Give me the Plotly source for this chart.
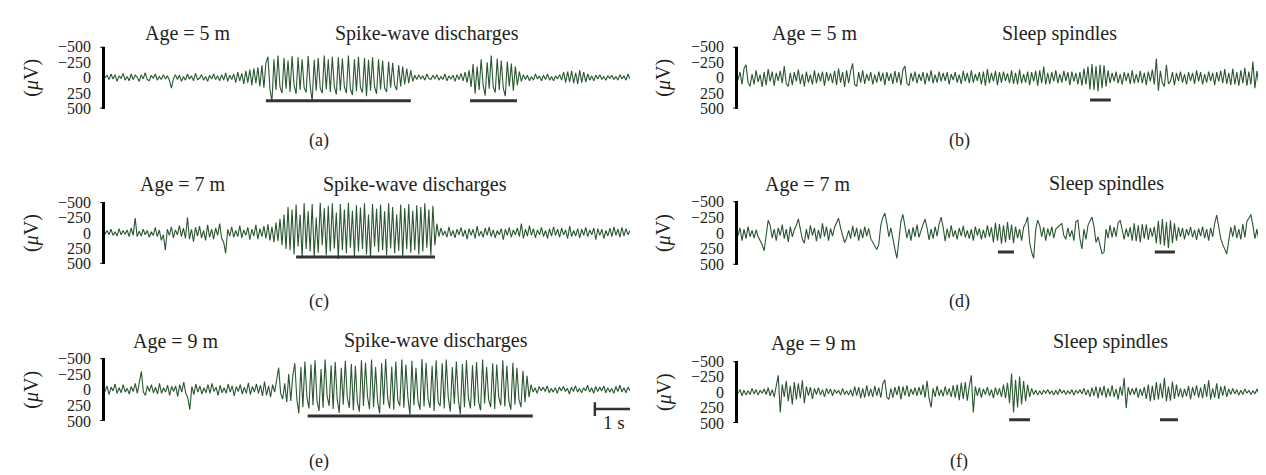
import plotly.graph_objects as go

# ---------------- data (µV, negative = up), one sample every DT seconds ----------------
DT = 0.054

eeg_a = [0, -40, 30, -60, 20, -50, 60, -30, 10, -70, 40, -20, 50, -60, 30, -40, -10, 60, -50, 20,
         -80, 30, 50, -40, 10, -60, 40, -20, 30, -50, 20, -30,
         40, 170, 20,
         -50, 30, -40, 60, -20, 40, -60, 20, -30, 50, -70, 30, 10, -50, 40, -20, 60, -40, 20, -60,
         30, -30, 50, -50, 40, -80, 60, -40, 30, -60, 80, -90, 50, -70, 100, -110, 80, -130, 120, -150,
         90, -170, 140, -200, 160, -240,
         -340, 180, 390, -300, 200, -360, 150, 250, -320, 180, -280, 230, -350, 120, 260,
         -330, 200, -300, 160, 240, -350, 130, 380, -290, 210, -320, 170, 250, -360, 190,
         -300, 230, -340, 140, 270, -330, 210, -310, 150, 250, -360, 180, 280, -300, 220,
         -340, 160, 240, -320, 300, -290, 210, -330, 150, 260, -300, 190, -280, 170, 230,
         -260, 160, -240, 120, 200, -200, 140, -180, 110, -150, 90, -120,
         60, -40, 30, -50, 20, -30, 40, -60, 10, 30, -40, 20, -50, 40, -20, 30, -60, 50, -30, 20,
         -40, 60, -50, 30, -70, 50, -90, 80, -120,
         150, -220, 260, -180, 200, -300, 120, 290, -250, 180, -360, 150, 240, -310, 200, -280,
         170, 300, -260, 140, -230, 210, -180, 120, -100,
         60, -50, 30, -40, 50, -20, 40, -60, 20, -30, 50, -40, 30, -60, 40, -20, 50, -30, 20, -50,
         40, -90, 80, -100, 70, -110, 90, -80, 100, -120, 80, -90, 70, -60, 40, -30, 50, -40, 20, -50,
         30, -20, 40, -30, 10, -40, 30, -20, 40, -50, 20, -30, 40, -60, 20]

eeg_c = [20, -40, 30, -60, 40, -20, 50, -70, 30, -40, 20, -50, 60, -80, 40, -240, 60, -30, 50, -60,
         30, -40, 70, -20, 40, -90, 60, -50, 120, 30, 280, -60, 40, -100, 80, -50, 30, -120, 60, -80,
         90, -250, 100, -60, 140, -90, 50, -110, 80, -40, 120, -130, 70, -60, 100, -80, 40, -150, 90, 150,
         330, -60, 50, -100, 70, -40, 60, -120, 80, -50, 40, -90, 110, -60, 50, -130, 100, -70, 60, -110,
         90, -140, 120, -100, 150, -170, 130,
         -230, 200, -300, 260,
         -420, 280, -380, 350, -460, 220, -300, 400, -480, 260, -350, 300, -470, 380, -250, 320,
         -490, 200, -400, 360, -440, 300, -480, 250, -330, 420, -470, 280, -380, 330, -490, 240,
         -360, 380, -450, 300, -410, 260, -480, 350, -300, 400, -470, 220, -390, 310, -460, 280,
         -350, 360, -480, 250, -420, 330, -300, 290, -460, 380, -400, 260, -470, 320, -360, 280,
         -450, 350, -420, 300, -480, 240, -380, 360, -440, 200, -150,
         60, -80, 40, -30, 70, -100, 50, -40, 80, -60, 30, -90, 60, -50, 100, -70, 40, -60, 90, -110,
         50, -30, 70, -80, 40, -100, 60, -50, 80, -40, 30, -70, 110, -60, 40, -90, 70, -50, 30, -80,
         60, -150, 90, -60, 50, -120, 40, -70, 80, -50, 30, -90, 60, -40, 90, -70, 50, -100, 40, -60,
         70, -80, 30, -50, 90, -110, 60, -40, 50, -70, 80, -60, 40, -90, 60, -50, 30, -80, 110, -70,
         40, -60, 90, -40, 50, -80, 60, -100, 40, -60, 70, -90, 50, -70, 30, -40]

eeg_e = [30, -60, 80, -40, 20, -90, 60, -30, 50, -80, 40, -20, 70, -50, 30, -100, 60, -120, -290, 40,
         90, -60, 30, -80, 50, -40, 70, -100, 60, -30, 40, -70, 90, -50, 30, -60, 110, -80, 40, -120,
         60, 130, 320, -50, 80, -90, 40, -60, 70, -30, 50, -80, 60, -100, 30, -40, 90, -70, 50, -30,
         60, -90, 40, -60, 100, -50, 30, -80, 70, -40, 60, -110, 80, -50, 40, -90, 60, -70, 100, -130,
         90, -60, 120, -80, 40, -150, -350, 60, 150, -100, 200, -250, 180, -220,
         -420, 150, 380, -360, 280, -450, 120, 300, -400, 250, -470, 180, 340, -330, 290, -480,
         100, 260, -390, 310, -440, 160, 370, -350, 240, -460, 130, 290, -410, 330, -380, 200,
         350, -470, 260, -430, 110, 310, -480, 280, -360, 190, 380, -420, 240, -490, 140, 300,
         -370, 320, -450, 170, 260, -480, 290, -400, 120, 400, -460, 250, -350, 180, 320, -490,
         270, -430, 150, 290, -380, 340, -470, 200, 260, -420, 300, -480, 130, 350, -360, 230,
         -450, 170, 390, -410, 280, -470, 140, 300, -390, 260, -440, 190, 330, -480, 220, -360,
         160, 280, -420, 310, -400, 120, 250, -470, 270, -380, 180, 320, -430, 240, -350, 150,
         280, -300, 200, -220, 120, -80,
         40, -30, 60, -50, 20, -40, 30, -60, 50, -20, 40, -30, 60, -40, 20, -50, 30, -20, 70, -40,
         30, -60, 40, -20, 50, -30, 20, -70, 40, -30, 60, -50, 30, -40, 20, -60, 50, -30, 40, -20,
         60, -50, 30, -70, 40, -30, 50, -40, 20]

eeg_b = [40, -90, 110, -150, -210, 80, 140, -60, 110, -120, 70, -50, 150, -90, 120, -140, 60, -100, 130, -80,
         50, -110, 90, -190, 100, 140, -80, 120, -90, 60, -130, 100, -60, 140, -100, 80, -50, 110, -120, 90,
         -80, 60, -100, 130, -90, 50, -70, 90, -110, 120, -150, 80, -90, 150, -120, 90, -110, -230, 110, 140,
         -90, 80, -120, 100, -60, 50, -90, 110, -50, 80, -100, 60, -80, 120, -90, 50, -70, 100, -110, 80,
         -90, 120, -130, -190, 90, 130, -80, 60, -100, 90, -60, 50, -90, 110, -80, 60, -120, 90, -50, 80,
         -100, 60, -80, 50, -90, 110, -60, 40, -90, 80, -50, 100, -110, 60, -80, 90, -120, 80, -60, 50,
         -90, 110, -100, 130, -140, 90, -80, 60, -110, 120, -90, 80, -100, 50, -70, 90, -120, 100, -80, 110,
         -130, 90, -60, 80, -100, 120, -90, 60, -110, 130, -120, 90, -180, 110, -80, 100, -90, 60, -120, 90,
         -60, 80, -110, 50, -90, 120, -100, 60, -80, 110, -90, 130, -150, 110, -180, 190, -220, 200, -190, 220,
         -210, 170, -200, 140, -120, 90, -80, 60, -100, 90, -60, 110, -90, 50, -80, 100, -120, 90, -60, 80,
         -110, 90, -80, 120, -100, 60, -130, 110, -310, 210, -110, 90, 140, -210, 100, 60, -90, 120, -80, 50,
         -100, 80, -60, 110, -90, 50, -80, 100, -120, 60, -90, 110, -60, 80, -100, 50, -80, 120, -90, 60,
         -110, 90, -140, 100, -80, 120, -150, 110, -90, 130, -120, 90, -160, 130, -100, 110, -260, 170, -110, 120,
         -150, -210, 140, -90, 110, -160]

eeg_d = [40, -80, 120, -60, 90, -100, 60, -40, 80, -50, 60, 120, 180, 280, 40, -200, -120, 80, -60, 120,
         -80, 40, -130, 90, -60, 140, -100, 60, -50, -120, -220, -80, 100, 160, -60, 100, -120, 40, -80, 130,
         -50, 90, -150, 60, -100, 120, -70, 50, -90, -160, -230, -80, 60, 150, 80, -40, 90, -110, 60, -80,
         120, -60, 80, -100, 50, -70, 90, 140, 200, 260, 180, -120, -240, -310, -150, 60, -80, 120, 250, 400,
         150, -180, -290, -100, 80, -60, 120, -90, 60, -130, 70, -40, -150, -220, -80, 110, -60, 90, -100, 50,
         -140, -250, -90, 130, -70, 80, -120, 60, -40, 100, -80, 50, -110, 70, -40, 90, -60, 120, -100, 40,
         -70, 100, -50, 80, -120, 60, -90, 150, -160, 120, -140, 170, -120, 150, -170, 110, -130, 160, -100, 80,
         -60, 120, -90, -150, -250, 150, 300, 400, -50, -200, -120, 60, -90, 120, -70, 50, -100, 80, -60, -90,
         -130, -150, 40, 100, -80, 60, -40, 120, -180, -200, 90, 250, -60, 100, -120, -180, -250, -100, 150, 60,
         200, 330, 300, -60, 80, -120, 70, -90, 60, -160, -200, -40, 100, -70, 60, -90, 120, -150, 130, -120,
         150, -140, 90, -130, 110, -80, 60, -100, 160, -190, 180, -220, 200, -170, 240, -200, 160, -150, 120, -90,
         60, -80, 100, -60, 40, -90, 70, -50, 110, -70, 50, -100, 80, -60, 120, -80, 60, -150, -280, -100,
         90, 180, 250, 330, 120, -90, 60, -120, 80, -60, 100, -140, 70, -180, -230, -290, -120, 90, -60, 130,
         -100, -270, -150, 80, 140, -120]

eeg_f = [20, -40, 60, -30, 50, -20, 40, -60, 30, -40, 50, -30, 20, -50, 40, -70, 60, -40, 80, -100,
         -270, 330, -120, 80, -180, 150, -100, 200, -160, 120, -140, 100, -190, 180, -90, 60, -80, 110, -60, 40,
         -70, 50, -40, 80, -60, 30, -50, 60, -40, 20, -30, 50, -60, 40, -20, 50, -40, 70, -90, 60,
         -80, 100, -60, 90, -110, 70, -50, 80, -100, 60, -70, 90, -130, -200, 80, 120, -60, 90, -80, 50,
         -100, 120, -90, 60, -110, 80, -50, 40, -70, 60, -80, 50, -120, 90, -180, 100, 250, -60, 80, -100,
         60, -40, 70, -90, 50, -60, 80, -110, 90, -120, 130, -150, 110, -160, 140, -100, -270, 330, -90, 60,
         -70, 90, -50, 40, -80, 60, -40, 100, -70, 50, -60, 80, -120, 100, -150, 180, -300, 330, -200, 250,
         -250, 200, -180, 150, -120, 80, -60, 40, -30, 50, -20, 40, -30, 20, -40, 30, -20, 50, -30, 40,
         -50, 20, -30, 40, -20, 30, -40, 50, -30, 20, -40, 30, -60, 50, -40, 80, -70, 60, -90, 100,
         -80, 60, -100, 90, -60, 70, -110, 80, -50, 120, -90, 60, -230, 260, -80, 50, -60, 40, -70, 90,
         -50, 60, -80, 110, -120, 150, -100, 130, -160, 120, -140, 100, -230, 150, -90, 140, -170, 110, -120, 80,
         -60, 90, -50, 70, -100, 120, -80, 60, -110, 90, -70, 100, -130, 80, -190, 120, -60, 90, -140, 110,
         -90, 60, -100, 80, -50, 40, -60, 30, -40, 50, -30, 40, -50, 20, -30, 40, -20, 30, -50, 40,
         -30, 20, -40, 30, -20, 10]

# marked intervals (s)
swd_a = [(4.32, 8.21), (9.80, 11.06)]
swd_c = [(5.13, 8.86)]
swd_e = [(5.42, 11.44)]
spindle_b = [(9.45, 10.01)]
spindle_d = [(6.98, 7.41), (11.19, 11.73)]
spindle_f = [(7.28, 7.84), (11.33, 11.81)]
scale_bar_s = (13.1, 14.1)

tick_vals = [-500, -250, 0, 250, 500]
tick_text = ["\u2212500", "\u2212250", "0", "250", "500"]

# ---------------- layout / style ----------------
W, H = 1266, 475
FONT = "Liberation Serif, Times New Roman, serif"
TXT = "#231f20"
LINE = "#2a5631"


def fx(px):
    return px / W


def fy(py):
    return 1 - py / H


col_px = [(97, 622), (730, 1263)]
panels = [
    dict(sig=eeg_a, col=0, ypx=(32, 96), marks=swd_a, bar=375, age="Age = 5 m", kind="Spike-wave discharges",
         age_xy=(180, 18), kind_xy=(419, 18), lab="(a)", lab_y=129),
    dict(sig=eeg_b, col=1, ypx=(32, 96), marks=spindle_b, bar=360, age="Age = 5 m", kind="Sleep spindles",
         age_xy=(807, 18), kind_xy=(1051, 18), lab="(b)", lab_y=129),
    dict(sig=eeg_c, col=0, ypx=(193, 257), marks=swd_c, bar=390, age="Age = 7 m", kind="Spike-wave discharges",
         age_xy=(175, 175), kind_xy=(407, 175), lab="(c)", lab_y=296),
    dict(sig=eeg_d, col=1, ypx=(192, 258), marks=spindle_d, bar=300, age="Age = 7 m", kind="Sleep spindles",
         age_xy=(800, 175), kind_xy=(1098, 174), lab="(d)", lab_y=296),
    dict(sig=eeg_e, col=0, ypx=(355, 420), marks=swd_e, bar=420, age="Age = 9 m", kind="Spike-wave discharges",
         age_xy=(168, 338), kind_xy=(428, 337), lab="(e)", lab_y=462),
    dict(sig=eeg_f, col=1, ypx=(358, 422), marks=spindle_f, bar=450, age="Age = 9 m", kind="Sleep spindles",
         age_xy=(806, 340), kind_xy=(1102, 338), lab="(f)", lab_y=462),
]
label_x = [311, 951]
unit_x = [24, 656]

fig = go.Figure()
shapes = []
annotations = []
layout_axes = {}

for k, p in enumerate(panels, start=1):
    n = len(p["sig"])
    t = [i * DT for i in range(n)]
    xa = "x" if k == 1 else f"x{k}"
    ya = "y" if k == 1 else f"y{k}"
    fig.add_trace(go.Scatter(x=t, y=p["sig"], mode="lines", line=dict(color=LINE, width=1.1),
                             xaxis=xa, yaxis=ya, hoverinfo="skip", showlegend=False))
    x0, x1 = col_px[p["col"]]
    ytop, ybot = p["ypx"]
    layout_axes["xaxis" if k == 1 else f"xaxis{k}"] = dict(
        domain=[fx(x0), fx(x1)], range=[0, (n - 1) * DT], anchor=ya, visible=False, fixedrange=True)
    layout_axes["yaxis" if k == 1 else f"yaxis{k}"] = dict(
        domain=[fy(ybot), fy(ytop)], range=[500, -500], anchor=xa, showline=True, linewidth=2.5,
        linecolor="black", showgrid=False, zeroline=False, ticks="", tickvals=tick_vals, ticktext=tick_text,
        tickfont=dict(family=FONT, size=16, color=TXT), ticklabelstandoff=8, fixedrange=True)
    for yv in (-500, 500):
        shapes.append(dict(type="line", xref=f"{xa} domain", yref=ya, x0=-0.009, x1=0, y0=yv, y1=yv,
                           line=dict(color="black", width=2)))
    for (s0, s1) in p["marks"]:
        shapes.append(dict(type="line", xref=xa, yref=ya, x0=s0, x1=s1, y0=p["bar"], y1=p["bar"],
                           line=dict(color="#333333", width=3)))
    annotations.append(dict(text=p["age"], x=fx(p["age_xy"][0]), y=fy(p["age_xy"][1]), xref="paper",
                            yref="paper", showarrow=False, xanchor="center", yanchor="middle",
                            font=dict(family=FONT, size=20, color=TXT)))
    annotations.append(dict(text=p["kind"], x=fx(p["kind_xy"][0]), y=fy(p["kind_xy"][1]), xref="paper",
                            yref="paper", showarrow=False, xanchor="center", yanchor="middle",
                            font=dict(family=FONT, size=20, color=TXT)))
    annotations.append(dict(text=p["lab"], x=fx(label_x[p["col"]]), y=fy(p["lab_y"]), xref="paper",
                            yref="paper", showarrow=False, xanchor="center", yanchor="middle",
                            font=dict(family=FONT, size=18, color=TXT)))
    annotations.append(dict(text="(<i>\u03bc</i>V)", x=fx(unit_x[p["col"]]), y=fy((ytop + ybot) / 2),
                            xref="paper", yref="paper", showarrow=False, textangle=-90,
                            xanchor="center", yanchor="middle", font=dict(family=FONT, size=20, color=TXT)))

sb0, sb1 = scale_bar_s
shapes.append(dict(type="line", xref="x5", yref="y5", x0=sb0, x1=sb1, y0=310, y1=310,
                   line=dict(color="#333333", width=2.5)))
for sx in (sb0, sb1):
    shapes.append(dict(type="line", xref="x5", yref="y5", x0=sx, x1=sx, y0=200, y1=420,
                       line=dict(color="#333333", width=2.5)))
annotations.append(dict(text="1 s", x=(sb0 + sb1) / 2, y=fy(422), xref="x5", yref="paper",
                        showarrow=False, xanchor="center", yanchor="middle",
                        font=dict(family=FONT, size=19, color=TXT)))

fig.update_layout(width=W, height=H, margin=dict(l=0, r=0, t=0, b=0), paper_bgcolor="white",
                  plot_bgcolor="white", shapes=shapes, annotations=annotations, showlegend=False,
                  **layout_axes)

fig.write_html("out.html")
